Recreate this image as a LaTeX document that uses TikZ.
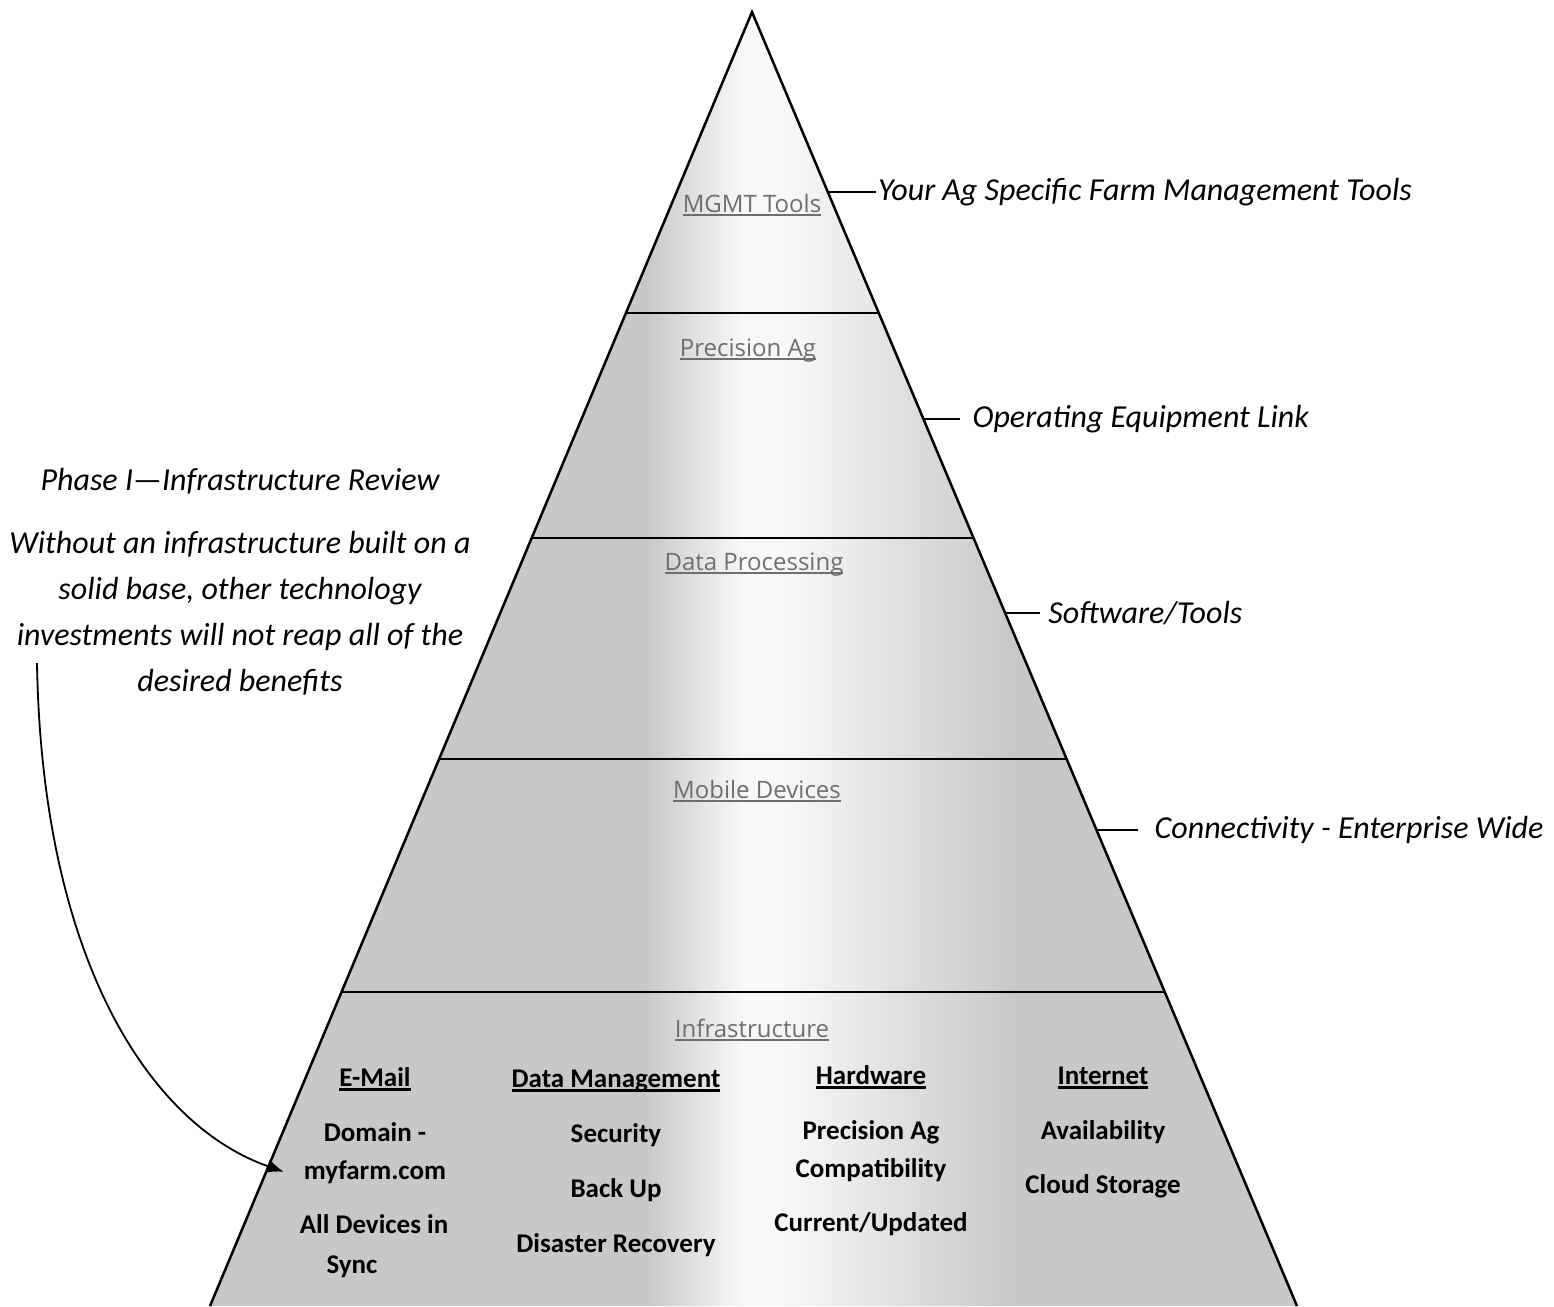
\documentclass[tikz,border=0pt]{standalone}
\usepackage{fontspec}
\setmainfont{Carlito}
\newfontfamily\layerfont{Open Sans}
\usetikzlibrary{calc,arrows.meta}

\definecolor{pyrgray}{HTML}{C8C8C8}
\definecolor{pyrlight}{HTML}{F8F8F8}
\definecolor{layergray}{HTML}{6E6E6E}

% light band down the middle of the pyramid
\pgfdeclarehorizontalshading{pyrshade}{100bp}{color(0bp)=(pyrgray); color(45bp)=(pyrgray); color(49.5bp)=(pyrlight); color(51.5bp)=(pyrlight); color(62bp)=(pyrgray); color(100bp)=(pyrgray)}

% underline with a bar of given thickness
\newcommand{\ulbar}[2][0.09em]{\setbox0=\hbox{#2}\rlap{\rule[-0.17em]{\wd0}{#1}}\box0}

\begin{document}
\begin{tikzpicture}[x=1pt,y=-1pt,
    note/.style={font=\fontsize{32}{46}\selectfont\itshape, inner sep=0pt},
    layer/.style={font=\layerfont\fontsize{24}{29}\selectfont, text=layergray, anchor=base, inner sep=0pt},
    head/.style={font=\fontsize{27}{32}\selectfont\bfseries, anchor=base, inner sep=0pt},
    leader/.style={line width=2pt}]
    \useasboundingbox (0,0) rectangle (1554,1306);

    \coordinate (apex) at (752,12);
    \coordinate (bl) at (210,1306);
    \coordinate (br) at (1297,1306);

    % pyramid
    \shade[shading=pyrshade] (apex) -- (br) -- (bl) -- cycle;
    \draw[line width=2.5pt] (bl) -- (apex) -- (br);
    \foreach \y in {313,538,759,992}
        \draw[line width=2.5pt] ($(apex)!{(\y-12)/1294}!(bl)$) -- ($(apex)!{(\y-12)/1294}!(br)$);

    % layer names
    \node[layer] (mgmt) at (752,212) {\ulbar[0.07em]{MGMT Tools}};
    \node[layer] (precision) at (748,356) {\ulbar[0.07em]{Precision Ag}};
    \node[layer] (processing) at (754,570) {\ulbar[0.07em]{Data Processing}};
    \node[layer] (mobile) at (757,798) {\ulbar[0.07em]{Mobile Devices}};
    \node[layer] (infra) at (752,1037) {\ulbar[0.07em]{Infrastructure}};

    % infrastructure columns
    \node[head] (colmail) at (375,1086) {\ulbar{E-Mail}};
    \node[head] (mailA) at (375,1141) {Domain -};
    \node[head] (mailB) at (375,1179) {myfarm.com};
    \node[head] (mailC) at (374,1233) {All Devices in};
    \node[head] (mailD) at (352,1273) {Sync};

    \node[head] (coldata) at (616,1087) {\ulbar{Data Management}};
    \node[head] (dataA) at (616,1142) {Security};
    \node[head] (dataB) at (616,1197) {Back Up};
    \node[head] (dataC) at (616,1252) {Disaster Recovery};

    \node[head] (colhw) at (871,1084) {\ulbar{Hardware}};
    \node[head] (hwA) at (871,1139) {Precision Ag};
    \node[head] (hwB) at (871,1177) {Compatibility};
    \node[head] (hwC) at (871,1231) {Current/Updated};

    \node[head] (colnet) at (1103,1084) {\ulbar{Internet}};
    \node[head] (netA) at (1103,1139) {Availability};
    \node[head] (netB) at (1103,1193) {Cloud Storage};

    % notes on the right
    \coordinate (e1) at ($(apex)!0.1391!(br)$);
    \coordinate (e2) at ($(apex)!0.3145!(br)$);
    \coordinate (e3) at ($(apex)!0.4645!(br)$);
    \coordinate (e4) at ($(apex)!0.6321!(br)$);
    \node[note, anchor=west] (tools) at ([xshift=50pt]e1) {Your Ag Specific Farm Management Tools};
    \node[note, anchor=west] (equip) at ([xshift=49pt]e2) {Operating Equipment Link};
    \node[note, anchor=west] (soft) at ([xshift=43pt]e3) {Software/Tools};
    \node[note, anchor=west] (conn) at ([xshift=58pt]e4) {Connectivity - Enterprise Wide};
    \draw[leader, shorten >=2pt] (e1) -- (tools);
    \draw[leader, shorten >=12pt] (e2) -- (equip);
    \draw[leader, shorten >=8pt] (e3) -- (soft);
    \draw[leader, shorten >=17pt] (e4) -- (conn);

    % phase note on the left
    \node[note, anchor=base] (phase) at (240,490) {Phase I—Infrastructure Review};
    \node[note, align=center, anchor=north] (reason) at (240,531) {Without an infrastructure built on a\\ solid base, other technology\\ investments will not reap all of the\\ desired benefits};
    \coordinate (tail) at (37,663);
    \draw[-{Latex[length=17pt,width=14pt]}, line width=1.8pt] (tail) .. controls (42,960) and (150,1125) .. ([xshift=-20pt]mailB.west);
\end{tikzpicture}
\end{document}
